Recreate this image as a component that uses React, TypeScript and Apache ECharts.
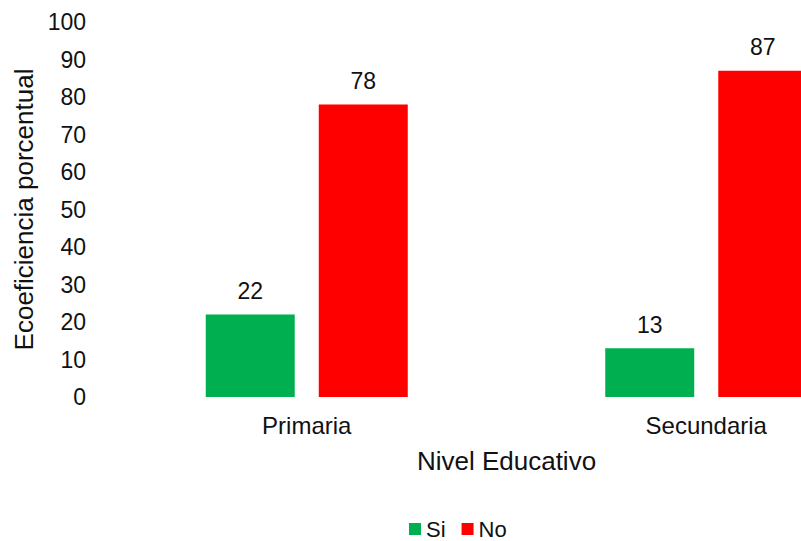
import React, { useEffect, useRef } from "react";
import * as echarts from "echarts";

const categories = ["Primaria", "Secundaria"];
const seriesNames = ["Si", "No"];
const siValues = [22, 13];
const noValues = [78, 87];
const yTicks = { min: 0, max: 100, interval: 10 };

const FONT = "'Liberation Sans', Arial, sans-serif";
const TEXT = "#111111";

export default function App() {
  const ref = useRef<HTMLDivElement>(null);
  useEffect(() => {
    if (!ref.current) return;
    const chart = echarts.init(ref.current, undefined, { renderer: "svg" });
    chart.setOption({
      animation: false,
      backgroundColor: "#ffffff",
      textStyle: { fontFamily: FONT, color: TEXT },
      grid: { left: 107, right: 14, top: 22, bottom: 144 },
      legend: {
        data: seriesNames,
        left: 404,
        top: 513,
        icon: "rect",
        itemWidth: 12,
        itemHeight: 12,
        itemGap: 16,
        textStyle: { fontSize: 22, color: TEXT, fontFamily: FONT },
      },
      xAxis: {
        type: "category",
        data: categories,
        name: "Nivel Educativo",
        nameLocation: "middle",
        nameGap: 51,
        nameTextStyle: { fontSize: 26, color: TEXT, fontFamily: FONT },
        axisLine: { show: false },
        axisTick: { show: false },
        splitLine: { show: false },
        axisLabel: { fontSize: 24, color: TEXT, margin: 16, fontFamily: FONT },
      },
      yAxis: {
        type: "value",
        min: yTicks.min,
        max: yTicks.max,
        interval: yTicks.interval,
        name: "Ecoeficiencia porcentual",
        nameLocation: "middle",
        nameGap: 69,
        nameTextStyle: { fontSize: 26, color: TEXT, fontFamily: FONT },
        axisLine: { show: false },
        axisTick: { show: false },
        splitLine: { show: false },
        axisLabel: { fontSize: 23, color: TEXT, margin: 21, fontFamily: FONT },
      },
      series: [
        {
          name: seriesNames[0],
          type: "bar",
          data: siValues,
          barWidth: 89,
          barGap: "27%",
          itemStyle: { color: "#00B050" },
          label: {
            show: true,
            position: "top",
            distance: 12,
            fontSize: 23,
            color: TEXT,
            fontFamily: FONT,
          },
        },
        {
          name: seriesNames[1],
          type: "bar",
          data: noValues,
          barWidth: 89,
          barGap: "27%",
          itemStyle: { color: "#FF0000" },
          label: {
            show: true,
            position: "top",
            distance: 12,
            fontSize: 23,
            color: TEXT,
            fontFamily: FONT,
          },
        },
      ],
    });
    return () => chart.dispose();
  }, []);

  return (
    <div
      style={{
        position: "fixed",
        left: 0,
        top: 0,
        width: 801,
        height: 541,
        overflow: "hidden",
        background: "#ffffff",
      }}
    >
      <div ref={ref} style={{ width: 920, height: 541 }} />
    </div>
  );
}
